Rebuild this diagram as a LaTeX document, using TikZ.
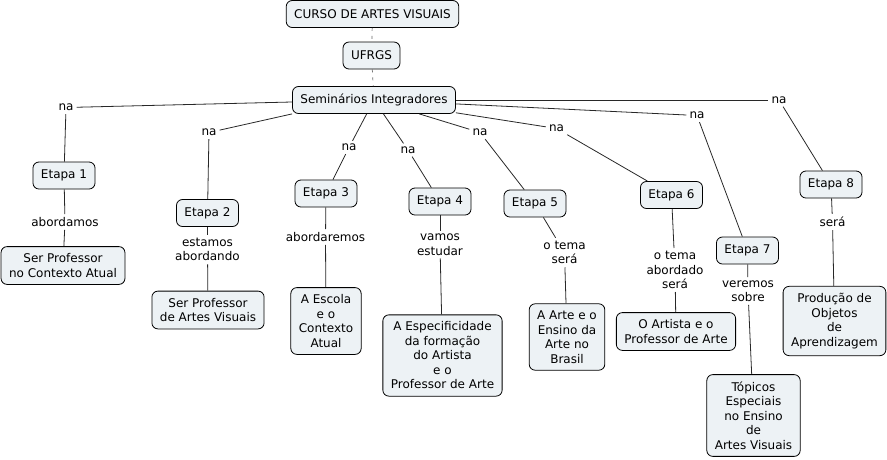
\documentclass[tikz,border=0pt]{standalone}
\usepackage{fontspec}
\setmainfont{DejaVu Sans}
\definecolor{boxfill}{RGB}{237,242,245}
\definecolor{linkcol}{RGB}{40,40,40}
\begin{document}
\begin{tikzpicture}[x=1pt,y=-1pt,
  box/.style={draw=black, line width=0.8pt, rounded corners=6pt, fill=boxfill,
    align=center, inner xsep=8pt, inner ysep=7pt, minimum height=27pt,
    font=\fontsize{12}{14.5}\selectfont},
  lab/.style={align=center, inner xsep=3pt, inner ysep=3pt,
    font=\fontsize{12}{14.5}\selectfont},
  link/.style={draw=linkcol, line width=0.8pt},
  faint/.style={draw=black!60, line width=0.7pt, dash pattern=on 3pt off 5pt}]
\useasboundingbox (0,0) rectangle (887,459);

% top chain
\node[box] (curso) at (372.5,14) {CURSO DE ARTES VISUAIS};
\node[box] (ufrgs) at (371.5,55.5) {UFRGS};
\node[box] (sem) at (374,100) {Seminários Integradores};

% na labels
\node[lab] (na1) at (66,107.5) {na};
\node[lab] (na2) at (209,132.5) {na};
\node[lab] (na3) at (349,147.5) {na};
\node[lab] (na4) at (408,150) {na};
\node[lab] (na5) at (480,132.5) {na};
\node[lab] (na6) at (556.5,128.5) {na};
\node[lab] (na7) at (697,115.5) {na};
\node[lab] (na8) at (779,100) {na};

% etapas
\node[box] (e1) at (64,175.5) {Etapa 1};
\node[box] (e2) at (207.5,213) {Etapa 2};
\node[box] (e3) at (326,193.5) {Etapa 3};
\node[box] (e4) at (440,201.5) {Etapa 4};
\node[box] (e5) at (535,203.5) {Etapa 5};
\node[box] (e6) at (671.5,195) {Etapa 6};
\node[box] (e7) at (747.5,250.5) {Etapa 7};
\node[box] (e8) at (831,184.5) {Etapa 8};

% linking phrases
\node[lab] (l1) at (65,222) {abordamos};
\node[lab] (l2) at (207.5,249.5) {estamos\\abordando};
\node[lab] (l3) at (325.5,237) {abordaremos};
\node[lab] (l4) at (440,244.5) {vamos\\estudar};
\node[lab] (l5) at (564.5,252.5) {o tema\\será};
\node[lab] (l6) at (675,270) {o tema\\abordado\\será};
\node[lab] (l7) at (748,291) {veremos\\sobre};
\node[lab] (l8) at (832.5,222) {será};

% concepts
\node[box] (c1) at (63,265.5) {Ser Professor\\no Contexto Atual};
\node[box] (c2) at (208,310) {Ser Professor\\de Artes Visuais};
\node[box] (c3) at (326,321) {A Escola\\e o\\Contexto\\Atual};
\node[box] (c4) at (442.5,355.5) {A Especificidade\\da formação\\do Artista\\e o\\Professor de Arte};
\node[box] (c5) at (567,337) {A Arte e o\\Ensino da\\Arte no\\Brasil};
\node[box] (c6) at (676,331.5) {O Artista e o\\Professor de Arte};
\node[box] (c7) at (753.5,415.5) {Tópicos\\Especiais\\no Ensino\\de\\Artes Visuais};
\node[box] (c8) at (834.5,321) {Produção de\\Objetos\\de\\Aprendizagem};

% connectors
\draw[faint] (curso) -- (ufrgs);
\draw[faint] (ufrgs) -- (sem);

\draw[link] (sem) -- (na1);
\draw[link] (sem.south west) -- (na2);
\draw[link] (sem) -- (na3);
\draw[link] (sem) -- (na4);
\draw[link] (sem) -- (na5);
\draw[link] (sem) -- (na6);
\draw[link] (sem) -- (na7);
\draw[link] (sem) -- (na8);

\draw[link] (na1) -- (e1);
\draw[link] (na2) -- (e2);
\draw[link] (na3) -- (e3);
\draw[link] (na4) -- (e4);
\draw[link] (na5) -- (e5);
\draw[link] (na6) -- (e6);
\draw[link] (na7) -- (e7);
\draw[link] (na8) -- (e8);

\draw[link] (e1) -- (l1);
\draw[link] (e2) -- (l2);
\draw[link] (e3) -- (l3);
\draw[link] (e4) -- (l4);
\draw[link] (e5) -- (l5);
\draw[link] (e6) -- (l6);
\draw[link] (e7) -- (l7);
\draw[link] (e8) -- (l8);

\draw[link] (l1) -- (c1);
\draw[link] (l2) -- (c2);
\draw[link] (l3) -- (c3);
\draw[link] (l4) -- (c4);
\draw[link] (l5) -- (c5);
\draw[link] (l6) -- (c6);
\draw[link] (l7) -- (c7);
\draw[link] (l8) -- (c8);
\end{tikzpicture}
\end{document}
